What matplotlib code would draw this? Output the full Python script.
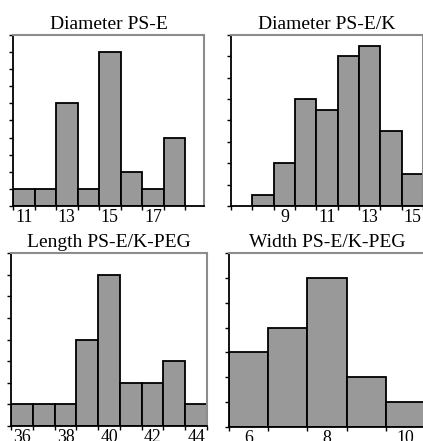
import matplotlib
matplotlib.use("Agg")
import matplotlib.pyplot as plt
import numpy as np

plt.rcParams['font.family'] = ['Liberation Serif', 'DejaVu Serif']

# Data (bin centers and counts)
titles = ["Diameter PS-E", "Diameter PS-E/K", "Length PS-E/K-PEG", "Width PS-E/K-PEG"]

d_pse_bins = [11, 12, 13, 14, 15, 16, 17, 18]
d_pse_counts = [1, 1, 6, 1, 9, 2, 1, 4]
d_pse_labels = [11, 13, 15, 17]

d_psek_bins = [8, 9, 10, 11, 12, 13, 14, 15]
d_psek_counts = [1, 4, 10, 9, 14, 15, 7, 3]
d_psek_labels = [9, 11, 13, 15]

l_peg_bins = [36, 37, 38, 39, 40, 41, 42, 43, 44]
l_peg_counts = [1, 1, 1, 4, 7, 2, 2, 3, 1]
l_peg_labels = [36, 38, 40, 42, 44]

w_peg_bins = [6, 7, 8, 9, 10]
w_peg_counts = [3, 4, 6, 2, 1]
w_peg_labels = [6, 8, 10]

W, H = 423, 441
fig = plt.figure(figsize=(W / 100, H / 100), dpi=100)

def box(l, r, b, t):
    return [l / W, 1 - b / H, (r - l) / W, (b - t) / H]

panels = [
    (box(13, 204, 206, 35), d_pse_bins, d_pse_counts, d_pse_labels, (10.5, 19.37), (0, 10), 1),
    (box(231, 423, 206, 35), d_psek_bins, d_psek_counts, d_psek_labels, (6.5, 15.5), (0, 16), 2),
    (box(11, 207, 426, 253), l_peg_bins, l_peg_counts, l_peg_labels, (35.5, 44.5), (0, 8), 1),
    (box(229, 425, 427, 253), w_peg_bins, w_peg_counts, w_peg_labels, (5.5, 10.5), (0, 7), 1),
]

for (rect, bins, counts, labels, xl, yl, ystep), title in zip(panels, titles):
    ax = fig.add_axes(rect)
    ax.bar(bins, counts, width=1.0, align='center', color='#999999',
           edgecolor='black', linewidth=1.3, zorder=2)
    ax.set_xlim(*xl)
    ax.set_ylim(*yl)
    edges = np.arange(xl[0], xl[1] + 1e-6, 1.0)
    ax.set_xticks(edges)
    ax.set_xticklabels([])
    ax.set_xticks(labels, minor=True)
    ax.set_xticklabels([str(v) for v in labels], minor=True, fontsize=12.8)
    ax.tick_params(axis='x', which='minor', length=0, pad=2.2)
    ax.tick_params(axis='x', which='major', length=3, width=1, direction='out')
    ax.set_yticks(np.arange(yl[0], yl[1] + 1e-6, ystep))
    ax.set_yticklabels([])
    ax.tick_params(axis='y', length=3, width=1, direction='out')
    for s in ['left', 'bottom']:
        ax.spines[s].set_color('black')
        ax.spines[s].set_linewidth(1.3)
    for s in ['top', 'right']:
        ax.spines[s].set_color('#8c8c8c')
        ax.spines[s].set_linewidth(1.5)
    ax.set_title(title, fontsize=14, pad=4)

fig.savefig("out.png", dpi=100)
